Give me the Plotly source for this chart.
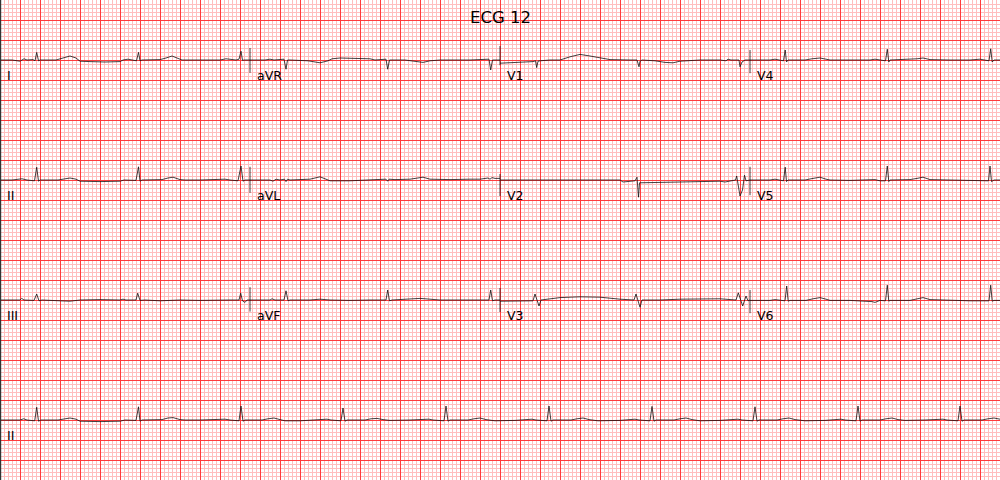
import plotly.graph_objects as go

# ---------------- data (time in s within a 2.5 s segment, amplitude in mV) ----------------
lead_I = [(0.00, 0.0), (0.12, 0.0), (0.20, -0.03), (0.22, 0.0), (0.24, 0.03), (0.27, 0.0), (0.33, 0.01),
          (0.35, -0.02), (0.367, 0.19), (0.385, -0.02), (0.40, 0.0), (0.56, 0.0), (0.62, 0.04), (0.70, 0.10),
          (0.76, 0.05), (0.80, -0.03), (0.90, -0.04), (1.05, -0.05), (1.20, -0.04), (1.23, 0.0), (1.28, 0.02),
          (1.33, 0.0), (1.365, -0.02), (1.385, 0.19), (1.40, -0.02), (1.42, 0.0), (1.60, 0.01), (1.66, 0.05),
          (1.72, 0.10), (1.78, 0.04), (1.82, 0.0), (2.00, 0.0), (2.20, 0.0), (2.26, 0.03), (2.30, 0.02),
          (2.36, 0.0), (2.39, 0.02), (2.41, 0.22), (2.425, -0.01), (2.44, 0.0), (2.50, 0.0)]
lead_II = [(0.00, 0.0), (0.12, 0.0), (0.22, 0.03), (0.27, 0.0), (0.345, -0.02), (0.367, 0.32), (0.385, -0.03),
           (0.40, 0.0), (0.58, 0.0), (0.64, 0.03), (0.70, 0.05), (0.76, 0.02), (0.80, -0.03), (1.00, -0.04),
           (1.20, -0.03), (1.24, 0.0), (1.36, -0.01), (1.385, 0.33), (1.40, -0.03), (1.42, 0.0), (1.62, 0.01),
           (1.68, 0.05), (1.73, 0.07), (1.80, 0.01), (1.85, 0.0), (2.00, 0.0), (2.25, 0.02), (2.30, 0.0),
           (2.38, -0.02), (2.41, 0.35), (2.43, -0.03), (2.45, 0.0), (2.50, 0.0)]
lead_III = [(0.00, 0.0), (0.20, 0.0), (0.217, 0.04), (0.24, 0.0), (0.34, -0.01), (0.367, 0.15), (0.39, -0.02),
            (0.42, 0.0), (0.60, -0.02), (0.70, -0.03), (0.80, 0.0), (1.00, 0.01), (1.20, 0.0), (1.23, 0.02),
            (1.26, 0.0), (1.36, 0.0), (1.377, 0.17), (1.40, -0.01), (1.45, 0.0), (1.60, -0.02), (1.80, 0.0),
            (2.00, -0.01), (2.30, 0.0), (2.39, 0.0), (2.407, 0.17), (2.425, -0.02), (2.45, -0.06), (2.47, 0.0),
            (2.50, 0.0)]
lead_aVR = [(0.00, 0.0), (0.15, 0.0), (0.20, 0.02), (0.24, 0.0), (0.34, 0.02), (0.36, -0.23), (0.375, 0.0),
            (0.40, 0.0), (0.58, -0.02), (0.70, -0.07), (0.78, -0.02), (0.82, 0.03), (0.90, 0.05), (1.10, 0.04),
            (1.20, 0.03), (1.25, 0.0), (1.36, 0.02), (1.377, -0.23), (1.395, 0.0), (1.55, 0.0), (1.65, -0.03),
            (1.73, -0.06), (1.80, -0.02), (1.90, 0.0), (2.20, 0.0), (2.30, 0.01), (2.39, 0.02), (2.407, -0.25),
            (2.425, 0.0), (2.50, 0.0)]
lead_aVL = [(0.00, 0.0), (0.20, 0.0), (0.23, -0.03), (0.26, 0.02), (0.30, 0.0), (0.345, 0.02), (0.36, -0.04),
            (0.375, 0.02), (0.40, 0.0), (0.60, 0.02), (0.70, 0.08), (0.76, 0.02), (0.80, -0.02), (1.00, -0.02),
            (1.20, -0.01), (1.26, 0.01), (1.36, 0.02), (1.377, -0.03), (1.39, 0.02), (1.45, 0.01), (1.60, 0.02),
            (1.73, 0.07), (1.80, 0.02), (2.00, 0.01), (2.20, 0.02), (2.30, 0.02), (2.38, 0.05), (2.40, 0.02),
            (2.42, 0.06), (2.45, 0.04), (2.50, 0.04)]
lead_aVF = [(0.00, 0.0), (0.20, 0.0), (0.22, 0.03), (0.25, 0.0), (0.34, 0.0), (0.36, 0.23), (0.38, -0.02),
            (0.40, 0.0), (0.60, 0.0), (0.70, 0.02), (0.80, 0.0), (1.00, -0.01), (1.20, 0.0), (1.36, 0.0),
            (1.377, 0.25), (1.395, -0.02), (1.42, 0.0), (1.62, 0.02), (1.70, 0.04), (1.80, 0.02), (1.90, 0.0),
            (2.20, 0.0), (2.39, 0.0), (2.407, 0.25), (2.425, -0.02), (2.45, 0.0), (2.50, 0.0)]
lead_V1 = [(0.00, -0.08), (0.10, -0.07), (0.20, -0.05), (0.27, -0.04), (0.33, -0.04), (0.355, -0.02),
           (0.367, -0.19), (0.38, -0.03), (0.40, -0.02), (0.50, 0.0), (0.60, 0.0), (0.70, 0.08), (0.80, 0.14),
           (0.90, 0.10), (1.00, 0.05), (1.10, 0.01), (1.30, 0.0), (1.37, 0.0), (1.39, -0.17), (1.40, -0.03),
           (1.42, 0.0), (1.55, -0.02), (1.65, -0.06), (1.73, -0.07), (1.80, -0.03), (2.00, 0.0), (2.20, 0.0),
           (2.26, -0.02), (2.28, 0.02), (2.31, 0.0), (2.39, 0.0), (2.40, -0.17), (2.42, -0.05), (2.45, 0.0),
           (2.50, 0.0)]
lead_V2 = [(0.00, 0.0), (0.50, 0.0), (0.60, 0.01), (1.00, 0.0), (1.10, 0.01), (1.20, 0.0), (1.23, -0.05),
           (1.30, -0.04), (1.35, -0.02), (1.37, 0.07), (1.385, -0.43), (1.395, -0.07), (1.42, -0.07),
           (1.60, -0.06), (1.80, -0.05), (2.00, -0.04), (2.20, -0.03), (2.25, -0.05), (2.30, -0.02),
           (2.355, 0.0), (2.367, 0.10), (2.40, -0.40), (2.425, -0.25), (2.445, 0.12), (2.46, -0.02),
           (2.50, 0.0)]
lead_V3 = [(0.00, -0.03), (0.20, -0.02), (0.33, -0.02), (0.35, 0.15), (0.39, -0.15), (0.41, 0.0), (0.50, 0.03),
           (0.60, 0.06), (0.80, 0.08), (1.00, 0.07), (1.20, 0.02), (1.34, 0.0), (1.36, 0.15), (1.40, -0.18),
           (1.42, 0.0), (1.60, 0.0), (1.80, 0.02), (2.00, 0.03), (2.20, 0.03), (2.36, 0.0), (2.383, 0.18),
           (2.427, -0.15), (2.46, 0.10), (2.48, -0.02), (2.50, 0.0)]
lead_V4 = [(0.00, 0.0), (0.20, 0.0), (0.25, 0.02), (0.30, 0.0), (0.335, -0.02), (0.352, 0.25), (0.365, -0.05),
           (0.38, 0.0), (0.55, 0.0), (0.62, 0.03), (0.70, 0.05), (0.76, 0.02), (0.80, 0.0), (1.00, 0.0),
           (1.20, 0.0), (1.25, 0.02), (1.30, 0.0), (1.355, -0.02), (1.373, 0.27), (1.388, -0.05), (1.40, 0.0),
           (1.60, 0.01), (1.67, 0.03), (1.73, 0.05), (1.80, 0.01), (2.00, 0.0), (2.20, 0.0), (2.30, 0.02),
           (2.35, 0.0), (2.39, -0.02), (2.407, 0.28), (2.422, -0.05), (2.44, 0.0), (2.50, 0.0)]
lead_V5 = [(0.00, 0.0), (0.20, 0.0), (0.25, 0.02), (0.30, 0.0), (0.335, -0.02), (0.352, 0.32), (0.365, -0.04),
           (0.38, 0.0), (0.55, 0.0), (0.63, 0.04), (0.70, 0.07), (0.76, 0.02), (0.80, 0.0), (1.00, -0.01),
           (1.20, 0.0), (1.25, 0.01), (1.30, -0.02), (1.355, -0.02), (1.373, 0.35), (1.388, -0.04), (1.40, 0.0),
           (1.60, 0.01), (1.67, 0.04), (1.73, 0.07), (1.80, 0.01), (2.00, 0.0), (2.20, -0.01), (2.30, 0.0),
           (2.35, -0.01), (2.385, -0.02), (2.40, 0.35), (2.415, -0.04), (2.44, 0.0), (2.50, 0.0)]
lead_V6 = [(0.00, -0.01), (0.20, -0.01), (0.25, 0.01), (0.30, -0.01), (0.35, -0.02), (0.367, 0.35),
           (0.382, -0.03), (0.40, -0.01), (0.56, -0.01), (0.63, 0.03), (0.70, 0.06), (0.76, 0.02), (0.80, -0.01),
           (1.00, -0.01), (1.15, -0.02), (1.22, -0.04), (1.25, -0.06), (1.30, -0.01), (1.355, -0.02),
           (1.373, 0.37), (1.388, -0.03), (1.40, -0.01), (1.60, -0.01), (1.67, 0.03), (1.73, 0.06), (1.80, 0.01),
           (2.00, -0.01), (2.20, -0.02), (2.30, -0.02), (2.39, -0.02), (2.407, 0.37), (2.422, -0.03),
           (2.44, -0.01), (2.50, -0.01)]
rhythm_II = [(0.00, 0.0), (0.20, 0.0), (0.237, 0.03), (0.27, 0.0), (0.347, -0.02), (0.367, 0.32), (0.385, -0.03),
             (0.41, 0.0), (0.58, 0.0), (0.64, 0.03), (0.70, 0.05), (0.76, 0.02), (0.80, -0.03), (1.00, -0.04),
             (1.20, -0.03), (1.25, 0.0), (1.36, -0.01), (1.385, 0.33), (1.40, -0.03), (1.42, 0.0), (1.62, 0.01),
             (1.68, 0.05), (1.73, 0.06), (1.80, 0.01), (1.85, 0.0), (2.00, 0.0), (2.25, 0.02), (2.30, 0.0),
             (2.39, -0.02), (2.41, 0.35), (2.43, -0.03), (2.45, 0.0), (2.62, 0.0), (2.68, 0.03), (2.74, 0.05),
             (2.80, 0.01), (2.85, -0.02), (3.00, -0.02), (3.20, 0.0), (3.27, 0.02), (3.31, 0.0),
             (3.41, -0.02), (3.43, 0.30), (3.45, -0.03), (3.47, 0.0), (3.65, 0.0), (3.71, 0.03), (3.77, 0.04),
             (3.83, 0.01), (3.90, -0.01), (4.10, 0.0), (4.29, 0.02), (4.33, 0.0),
             (4.44, -0.02), (4.46, 0.35), (4.48, -0.03), (4.50, 0.0), (4.68, 0.0), (4.74, 0.03), (4.80, 0.05),
             (4.86, 0.01), (4.95, -0.02), (5.15, -0.01), (5.32, 0.02), (5.36, 0.0),
             (5.47, -0.02), (5.49, 0.35), (5.51, -0.03), (5.53, 0.0), (5.71, 0.0), (5.77, 0.03), (5.83, 0.05),
             (5.89, 0.01), (5.98, -0.02), (6.20, -0.01), (6.35, 0.02), (6.39, 0.0),
             (6.50, -0.02), (6.52, 0.34), (6.54, -0.03), (6.56, 0.0), (6.74, 0.0), (6.80, 0.03), (6.86, 0.05),
             (6.92, 0.01), (7.00, -0.02), (7.20, -0.01), (7.38, 0.02), (7.42, 0.0),
             (7.53, -0.02), (7.55, 0.33), (7.57, -0.03), (7.59, 0.0), (7.77, 0.0), (7.83, 0.03), (7.89, 0.05),
             (7.95, 0.01), (8.05, -0.02), (8.25, -0.01), (8.41, 0.02), (8.45, 0.0),
             (8.56, -0.02), (8.58, 0.35), (8.60, -0.03), (8.62, 0.0), (8.80, 0.0), (8.86, 0.03), (8.92, 0.05),
             (8.98, 0.01), (9.05, -0.01), (9.25, 0.0), (9.43, 0.02), (9.47, 0.0),
             (9.58, -0.02), (9.60, 0.35), (9.62, -0.03), (9.64, 0.0), (9.82, 0.0), (9.88, 0.03), (9.94, 0.05),
             (10.00, 0.02)]

lead_names = ["I", "II", "III", "aVR", "aVL", "aVF", "V1", "V2", "V3", "V4", "V5", "V6"]
lead_data = [lead_I, lead_II, lead_III, lead_aVR, lead_aVL, lead_aVF,
             lead_V1, lead_V2, lead_V3, lead_V4, lead_V5, lead_V6]
# separator marks between columns (top, bottom in mV relative to row baseline), per column 1..3, rows 0..2
separator_top = [[0.30, 0.33, 0.32], [0.35, 0.15, 0.30], [0.25, 0.33, 0.25]]
separator_bottom = [[-0.32, -0.32, -0.29], [-0.13, -0.40, -0.30], [-0.33, -0.38, -0.33]]

title_text = "ECG 12"
seg_secs = 2.5
row_step = 3.0
y_min, y_max = -10.5, 1.5
line_color = "#111111"
label_dx = 0.05

fig = go.Figure()
annotations = []
for idx, (name, pts) in enumerate(zip(lead_names, lead_data)):
    col, row = divmod(idx, 3)
    x_off = col * seg_secs
    y_off = -row_step * row
    fig.add_trace(go.Scatter(x=[p[0] + x_off for p in pts], y=[p[1] + y_off for p in pts],
                             mode="lines", line=dict(color=line_color, width=0.8),
                             hoverinfo="skip", showlegend=False))
    if col > 0:
        fig.add_trace(go.Scatter(x=[x_off, x_off],
                                 y=[y_off + separator_bottom[col - 1][row], y_off + separator_top[col - 1][row]],
                                 mode="lines", line=dict(color=line_color, width=0.8),
                                 hoverinfo="skip", showlegend=False))
    annotations.append(dict(x=x_off + label_dx, y=y_off - 0.375, text=name, showarrow=False,
                            xanchor="left", yanchor="middle", xref="x", yref="y",
                            font=dict(family="DejaVu Sans", size=12.5, color="black")))

y_r = -row_step * 3
fig.add_trace(go.Scatter(x=[p[0] for p in rhythm_II], y=[p[1] + y_r for p in rhythm_II],
                         mode="lines", line=dict(color=line_color, width=0.8),
                         hoverinfo="skip", showlegend=False))
annotations.append(dict(x=label_dx, y=y_r - 0.375, text="II", showarrow=False,
                        xanchor="left", yanchor="middle", xref="x", yref="y",
                        font=dict(family="DejaVu Sans", size=12.5, color="black")))
annotations.append(dict(x=0.5, y=1 - 18 / 480, text=title_text, showarrow=False,
                        xanchor="center", yanchor="middle", xref="paper", yref="paper",
                        font=dict(family="DejaVu Sans", size=16.5, color="black")))

major = "rgb(255,60,60)"
minor = "rgb(255,190,190)"
fig.update_layout(
    width=1000, height=480,
    margin=dict(l=0, r=0, t=0, b=0, pad=0),
    paper_bgcolor="white", plot_bgcolor="white",
    annotations=annotations,
    # left axis spine
    shapes=[dict(type="line", xref="paper", yref="paper", x0=0.0006, x1=0.0006, y0=0, y1=1,
                 line=dict(color="#333333", width=1.2), layer="above")],
    xaxis=dict(range=[0, 10], tick0=0, dtick=0.2, showgrid=True, gridcolor=major, gridwidth=1,
               minor=dict(tick0=0, dtick=0.04, showgrid=True, gridcolor=minor, gridwidth=1),
               showticklabels=False, ticks="", zeroline=False, showline=False, fixedrange=True),
    yaxis=dict(range=[y_min, y_max], tick0=0, dtick=0.5, showgrid=True, gridcolor=major, gridwidth=1,
               minor=dict(tick0=0, dtick=0.1, showgrid=True, gridcolor=minor, gridwidth=1),
               showticklabels=False, ticks="", zeroline=False, showline=False, fixedrange=True),
)
fig.write_html("out.html", config={"displayModeBar": False})

# remove the default page margin so the 1000x480 figure fills the window
with open("out.html", "r", encoding="utf-8") as fh:
    html = fh.read()
html = html.replace("<head>", "<head><style>html,body{margin:0;padding:0;overflow:hidden;}</style>", 1)
with open("out.html", "w", encoding="utf-8") as fh:
    fh.write(html)
